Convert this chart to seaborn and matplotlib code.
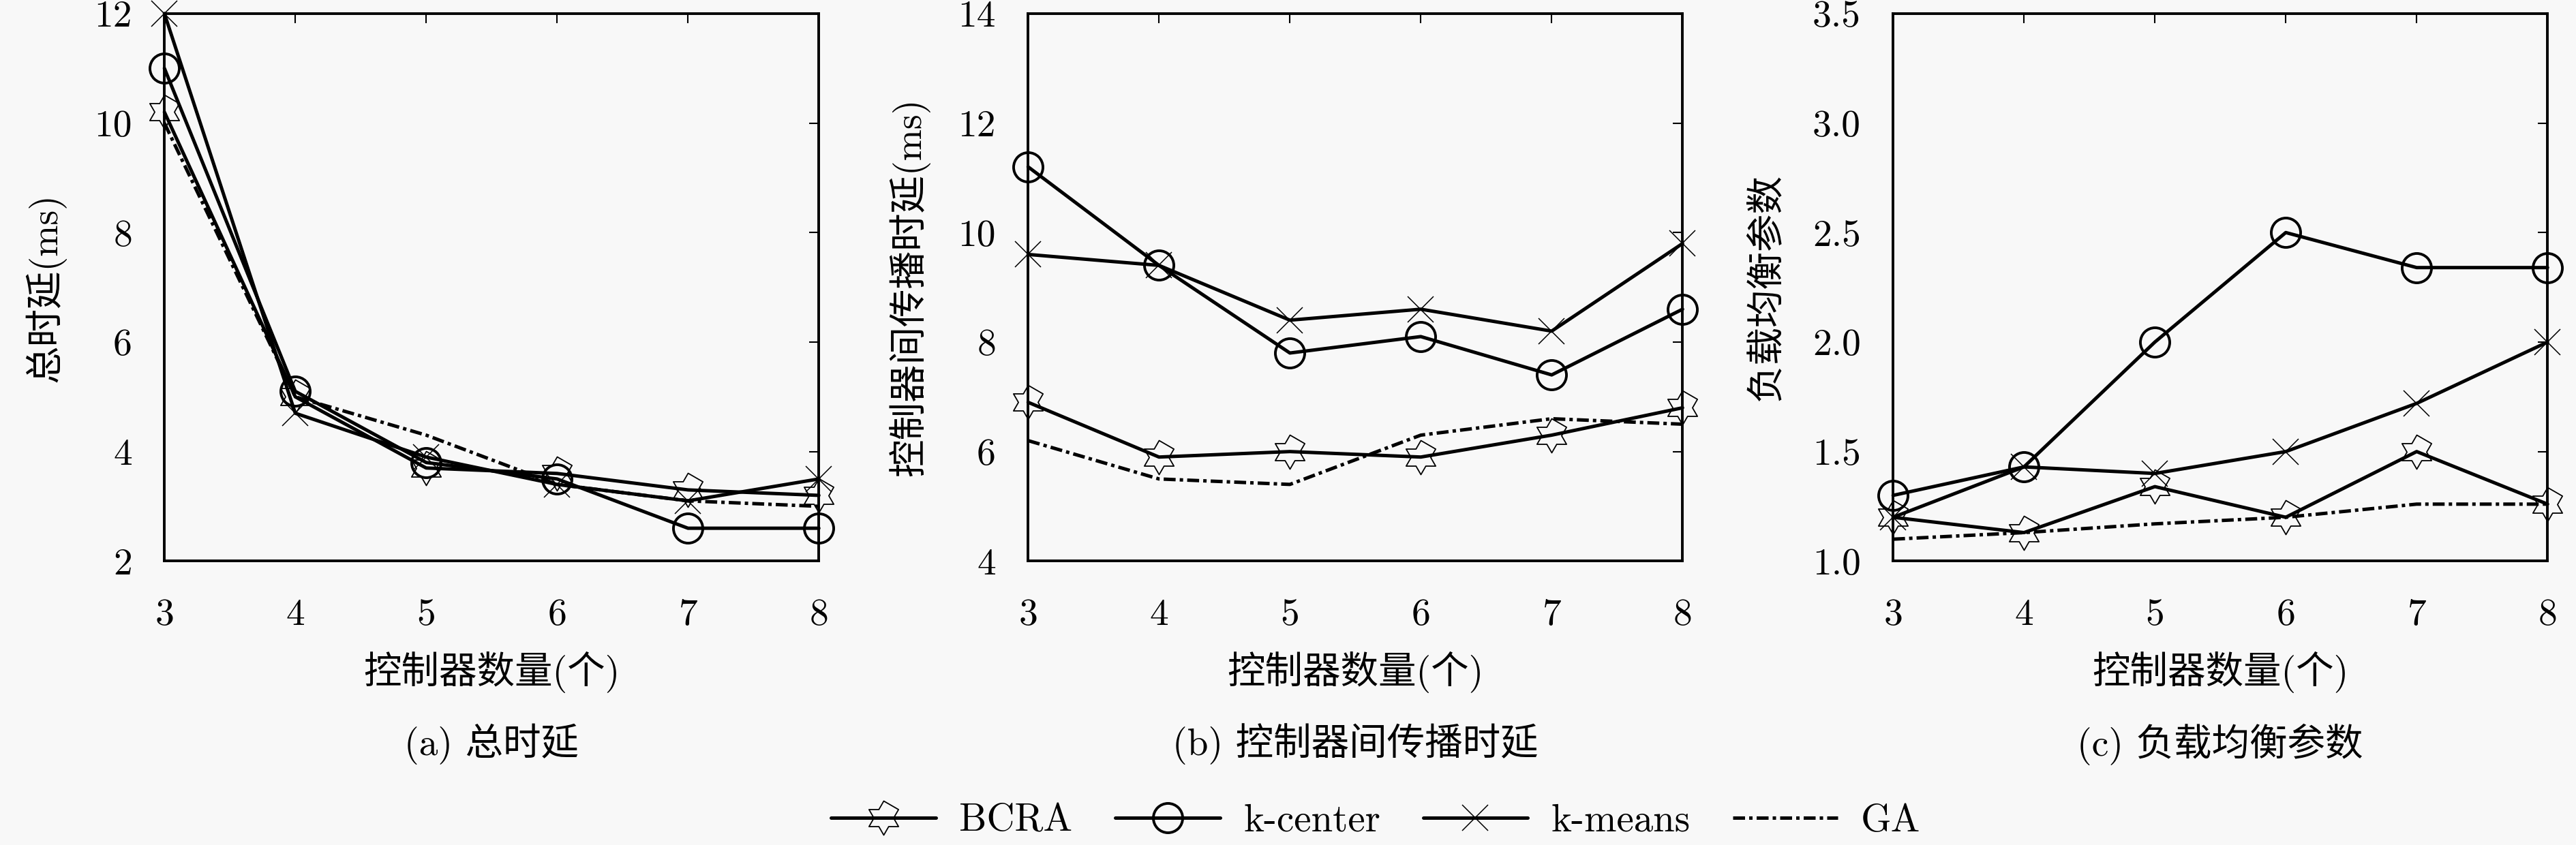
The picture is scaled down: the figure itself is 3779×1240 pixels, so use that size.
import numpy as np
import matplotlib
matplotlib.use('Agg')
import matplotlib.pyplot as plt
from matplotlib.path import Path
import seaborn as sns

controllers = [3, 4, 5, 6, 7, 8]
methods = ['BCRA', 'k-center', 'k-means', 'GA']

# (a) 总时延
a_bcra = [10.2, 5.0, 3.7, 3.6, 3.3, 3.2]
a_kcenter = [11.0, 5.1, 3.8, 3.5, 2.6, 2.6]
a_kmeans = [12.0, 4.7, 3.9, 3.4, 3.1, 3.5]
a_ga = [10.0, 5.0, 4.3, 3.4, 3.1, 3.0]

# (b) 控制器间传播时延
b_bcra = [6.9, 5.9, 6.0, 5.9, 6.3, 6.8]
b_kcenter = [11.2, 9.4, 7.8, 8.1, 7.4, 8.6]
b_kmeans = [9.6, 9.4, 8.4, 8.6, 8.2, 9.8]
b_ga = [6.2, 5.5, 5.4, 6.3, 6.6, 6.5]

# (c) 负载均衡参数
c_bcra = [1.2, 1.13, 1.34, 1.2, 1.5, 1.26]
c_kcenter = [1.3, 1.43, 2.0, 2.5, 2.34, 2.34]
c_kmeans = [1.2, 1.43, 1.4, 1.5, 1.72, 2.0]
c_ga = [1.1, 1.13, 1.17, 1.2, 1.26, 1.26]

ylabels = ['总时延(ms)', '控制器间传播时延(ms)', '负载均衡参数']
captions = ['(a) 总时延', '(b) 控制器间传播时延', '(c) 负载均衡参数']
xlabel = '控制器数量(个)'
ylims = [(2, 12), (4, 14), (1.0, 3.5)]
yticks = [[2, 4, 6, 8, 10, 12], [4, 6, 8, 10, 12, 14], [1.0, 1.5, 2.0, 2.5, 3.0, 3.5]]

BG = '#f8f8f8'
sns.set_theme(style='white', rc={
    'text.color': 'black', 'axes.labelcolor': 'black',
    'xtick.color': 'black', 'ytick.color': 'black',
    'axes.edgecolor': 'black',
    'figure.facecolor': BG, 'axes.facecolor': BG, 'savefig.facecolor': BG,
})
plt.rcParams['font.family'] = ['cmr10', 'Noto Sans CJK SC', 'DejaVu Sans']
FS = 40

# 六角星 marker (两个三角形的轮廓)
ang = np.pi / 2 + np.arange(12) * np.pi / 6
rad = np.where(np.arange(12) % 2 == 0, 1.0, 1 / np.sqrt(3))
hexagram = Path(np.column_stack([rad * np.cos(ang), rad * np.sin(ang)]), closed=True)

styles = {
    'BCRA': dict(marker=hexagram, markersize=36, markeredgewidth=1.3, linestyle='-'),
    'k-center': dict(marker='o', markersize=31, markeredgewidth=2.8, linestyle='-'),
    'k-means': dict(marker='x', markersize=28, markeredgewidth=1.1, linestyle='-'),
    'GA': dict(marker=None, linestyle=(0, (3.5, 1.2, 1, 1.2))),
}

panels = [
    [a_bcra, a_kcenter, a_kmeans, a_ga],
    [b_bcra, b_kcenter, b_kmeans, b_ga],
    [c_bcra, c_kcenter, c_kmeans, c_ga],
]

fig = plt.figure(figsize=(37.8, 12.4), dpi=100)
lefts = [0.0638, 0.399, 0.7347]
axes = []
for i, series in enumerate(panels):
    ax = fig.add_axes([lefts[i], 0.336, 0.2540, 0.648])
    axes.append(ax)
    for name, vals in zip(methods, series):
        st = styles[name]
        sns.lineplot(x=controllers, y=vals, ax=ax, color='black', linewidth=3.6,
                     markerfacecolor='none', markeredgecolor='black',
                     label=name, clip_on=False, **st)
    ax.set_xlim(3, 8)
    ax.set_ylim(*ylims[i])
    ax.set_xticks(controllers)
    ax.set_yticks(yticks[i])
    if i == 2:
        ax.set_yticklabels([f'{t:.1f}' for t in yticks[i]])
    ax.tick_params(direction='in', top=True, right=True, length=10, width=1.5,
                   labelsize=FS)
    ax.tick_params(axis='x', pad=40)
    ax.tick_params(axis='y', pad=34)
    for sp in ax.spines.values():
        sp.set_linewidth(2.8)
        sp.set_color('black')
    ax.set_xlabel(xlabel, fontsize=FS, labelpad=20)
    ax.set_ylabel(ylabels[i], fontsize=FS, labelpad=30)
    cx = lefts[i] + 0.127
    fig.text(cx, 1 - 1092 / 1240, captions[i], fontsize=FS, ha='center', va='center')

handles, labels = axes[0].get_legend_handles_labels()
for ax in axes:
    if ax.get_legend() is not None:
        ax.get_legend().remove()

fig.legend(handles, labels, loc='center', bbox_to_anchor=(0.534, 0.028), ncol=4,
           frameon=False, handlelength=2.7, columnspacing=1.1, handletextpad=0.6,
           fontsize=41)

fig.savefig('out.png', dpi=100)
